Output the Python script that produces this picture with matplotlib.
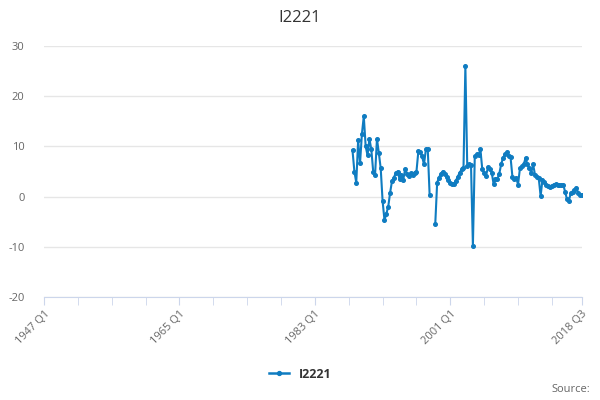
import numpy as np
import matplotlib
matplotlib.use("Agg")
import matplotlib.pyplot as plt
from matplotlib.lines import Line2D

plt.rcParams['font.family'] = ['Open Sans', 'DejaVu Sans']

series_name = "I2221"
start_year, end_year, end_q = 1947, 2018, 3
categories = [f"{y} Q{q}" for y in range(start_year, end_year + 1) for q in range(1, 5)]
categories = categories[:categories.index(f"{end_year} Q{end_q}") + 1]

data_start = "1988 Q1"
values = [
    9.2, 5.0, 2.8, 11.2, 6.6, 12.5, 16.0, 10.0, 8.2, 11.5,
    9.4, 5.0, 4.4, 11.5, 8.7, 5.6, -0.9, -4.7, -3.4, -2.0,
    0.8, 3.1, 3.8, 4.7, 5.0, 3.5, 4.4, 3.4, 5.5, 4.6,
    4.2, 4.7, 4.4, 4.8, 5.0, 9.0, 8.9, 8.0, 6.4, 9.4,
    9.5, 0.3, None, None, -5.4, 2.8, 3.8, 4.6, 5.0, 4.6,
    4.0, 3.4, 2.8, 2.5, 2.6, 3.2, 4.0, 4.8, 5.4, 5.6,
    26.0, 6.0, 6.4, 6.2, -9.8, 8.0, 8.4, 8.2, 9.4, 5.4,
    4.8, 4.2, 5.8, 5.4, 4.8, 2.5, 3.6, 3.5, 4.5, 6.4,
    7.7, 8.4, 8.8, 8.0, 7.9, 4.0, 3.6, 3.8, 2.4, 5.6,
    6.0, 6.4, 7.7, 6.4, 5.7, 4.7, 6.4, 4.4, 4.0, 3.7,
    0.1, 3.4, 3.0, 2.4, 2.2, 1.9, 2.2, 2.4, 2.5, 2.4,
    2.4, 2.3, 2.4, 1.0, -0.5, -0.9, 0.7, 1.0, 1.4, 1.8,
    0.7, 0.3, 0.3,
]
tick_labels = ["1947 Q1", "1965 Q1", "1983 Q1", "2001 Q1", "2018 Q3"]
y_ticks = [-20, -10, 0, 10, 20, 30]

color = '#0f7cc1'

n = len(categories)
x = np.arange(n)
y = np.full(n, np.nan)
s = categories.index(data_start)
y[s:s + len(values)] = [np.nan if v is None else v for v in values]

fig = plt.figure(figsize=(6, 4), dpi=100)
ax = fig.add_axes([44/600, 1 - 297/400, 538/600, 251/400])

ax.plot(x, y, color=color, lw=1.5, marker='o', ms=2.6, zorder=3)

ax.set_xlim(0, n - 1)
ax.set_ylim(-20, 30)
ax.set_yticks(y_ticks)
ax.set_yticklabels([str(t) for t in y_ticks], color='#666666', fontsize=8)
ax.grid(axis='y', color='#e6e6e6', lw=1)
ax.set_axisbelow(True)
for sp in ['top', 'right', 'left']:
    ax.spines[sp].set_visible(False)
ax.spines['bottom'].set_color('#ccd6eb')
ax.tick_params(axis='y', length=0, pad=14)

major_pos = [categories.index(t) for t in tick_labels]
minor_pos = list(range(0, n, 18)) + [n - 1]
ax.set_xticks(minor_pos, minor=True)
ax.set_xticks(major_pos)
ax.set_xticklabels(tick_labels, rotation=45, ha='right', rotation_mode='anchor',
                   color='#666666', fontsize=8)
ax.tick_params(axis='x', which='both', length=6, color='#ccd6eb', pad=2)

fig.text(0.5, 0.955, series_name, ha='center', va='center', fontsize=12, color='#333333')

handle = Line2D([], [], color=color, lw=1.8, marker='o', ms=2.8)
fig.legend([handle], [series_name], loc='center', bbox_to_anchor=(0.5, 0.065),
           frameon=False, handlelength=1.6, prop={'size': 9, 'weight': 'bold'},
           labelcolor='#333333')
fig.text(0.983, 0.025, "Source:", ha='right', va='center', fontsize=8, color='#666666')

fig.savefig('out.png', dpi=100)
